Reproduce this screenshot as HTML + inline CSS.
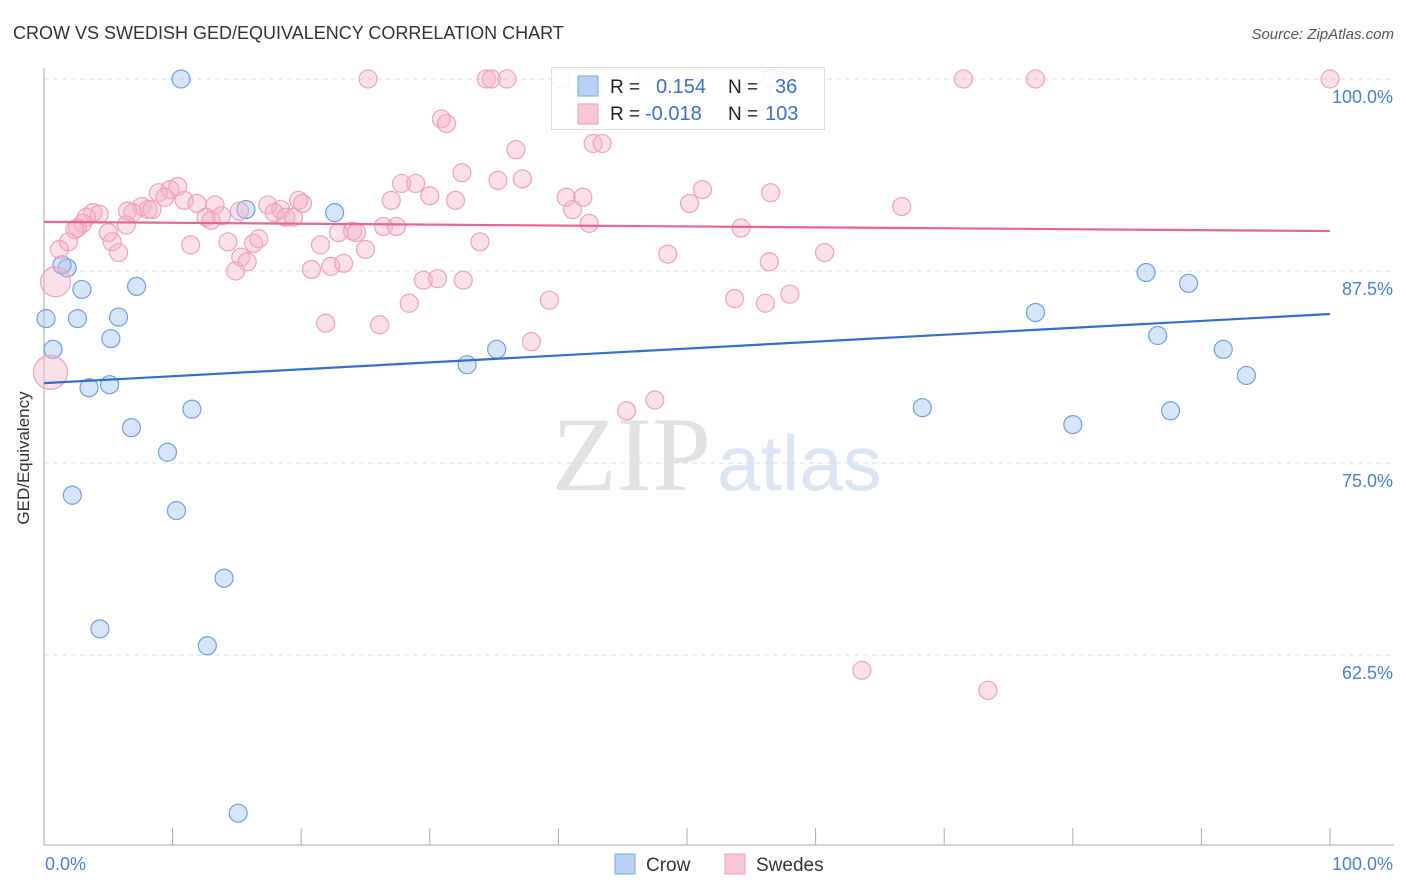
<!DOCTYPE html>
<html><head><meta charset="utf-8"><style>
body{margin:0;background:#fff;font-family:"Liberation Sans",sans-serif}
svg{display:block}
</style></head><body>
<svg id="chart" width="1406" height="892">
<text x="13" y="39" font-size="18" fill="#333">CROW VS SWEDISH GED/EQUIVALENCY CORRELATION CHART</text>
<text x="1394" y="39" font-size="15" fill="#555" font-style="italic" text-anchor="end">Source: ZipAtlas.com</text>
<g>
<text x="552" y="490" font-family="Liberation Serif,serif" font-size="106" fill="#e2e2e2">ZIP</text>
<text x="717" y="490" font-size="78" fill="#dbe6f5">atlas</text>
</g>
<g id="grid"></g>
<g id="axes"></g>
<g id="pts"></g>
<g id="trend"></g>
<text x="29" y="458" font-size="17" fill="#333" transform="rotate(-90 29 458)" text-anchor="middle">GED/Equivalency</text>
<text x="45" y="870" font-size="18" fill="#4a7fd4">0.0%</text>
<text x="1393" y="870" font-size="18" fill="#4a7fd4" text-anchor="end">100.0%</text>
<g>
<rect x="551.5" y="67.5" width="273" height="62" fill="rgba(255,255,255,0.9)" stroke="#ddd"/>
<rect x="578" y="76" width="20" height="20" fill="#b9d1f3" stroke="#7aa6e3"/>
<rect x="578" y="104" width="20" height="20" fill="#f9c6d6" stroke="#eba0ba"/>
<text x="610" y="93" font-size="19" fill="#222">R = </text><text x="656" y="93" font-size="20" fill="#3a6fd0">0.154</text>
<text x="728" y="93" font-size="19" fill="#222">N = </text><text x="775" y="93" font-size="20" fill="#3a6fd0">36</text>
<text x="610" y="120" font-size="19" fill="#222">R = </text><text x="645" y="120" font-size="20" fill="#3a6fd0">-0.018</text>
<text x="728" y="120" font-size="19" fill="#222">N = </text><text x="765" y="120" font-size="20" fill="#3a6fd0">103</text>
</g>
<g>
<rect x="615" y="854" width="20" height="20" fill="#b9d1f3" stroke="#7aa6e3"/>
<text x="646" y="871" font-size="19" fill="#333">Crow</text>
<rect x="725" y="854" width="20" height="20" fill="#f9c6d6" stroke="#eba0ba"/>
<text x="756" y="871" font-size="19" fill="#333">Swedes</text>
</g>
</svg>
<script>
const yTicks=[100,87.5,75,62.5];
const yTickLabels=["100.0%","87.5%","75.0%","62.5%"];
const crowX=[10.65,40.2,56.5,0.16,0.7,1.8,1.4,2.95,2.6,5.8,7.2,5.2,3.5,5.1,6.8,9.6,11.5,2.2,10.3,14.0,4.35,12.7,15.1,15.7,22.6,32.9,35.2,68.3,77.1,80.0,85.7,86.6,87.6,89.0,91.7,93.5];
const crowY=[100,100,100,84.4,82.4,87.7,87.9,86.3,84.4,84.5,86.5,83.1,79.9,80.1,77.3,75.7,78.5,72.9,71.9,67.5,64.2,63.1,52.2,91.5,91.3,81.4,82.4,78.6,84.8,77.5,87.4,83.3,78.4,86.7,82.4,80.7];
const swX=[25.2,34.4,34.8,36.0,46.9,71.5,77.1,100,30.9,31.3,36.7,42.7,43.4,32.5,35.3,37.2,27.8,28.9,30.0,32.0,27.0,40.6,41.9,41.1,51.2,50.2,56.5,66.7,42.4,54.2,8.9,9.8,10.4,9.4,10.9,11.9,13.3,15.2,17.4,18.4,19.8,20.1,17.9,18.8,19.4,12.6,13.0,13.8,7.6,8.1,8.4,6.9,6.5,3.8,4.3,3.3,3.0,2.6,2.4,6.4,5.0,1.9,1.2,5.3,5.8,11.4,14.3,16.3,16.7,15.3,15.8,14.9,21.5,22.9,24.0,24.3,25.0,26.4,27.4,33.9,20.8,22.3,23.3,29.5,30.6,32.6,28.4,39.3,21.9,26.1,37.9,48.5,56.4,60.7,53.7,56.1,58.0,45.3,47.5,63.6,73.4,0.9,0.5];
const swY=[100,100,100,100,100,100,100,100,97.4,97.1,95.4,95.8,95.8,93.9,93.4,93.5,93.2,93.2,92.4,92.1,92.1,92.3,92.3,91.5,92.8,91.9,92.6,91.7,90.6,90.3,92.6,92.8,93.0,92.3,92.1,91.9,91.8,91.4,91.8,91.5,92.1,91.9,91.3,91.0,91.0,91.0,90.8,91.1,91.7,91.5,91.5,91.3,91.4,91.3,91.2,91.0,90.6,90.3,90.2,90.5,90.0,89.4,88.9,89.4,88.7,89.2,89.4,89.3,89.6,88.4,88.1,87.5,89.2,90.0,90.1,90.0,88.9,90.4,90.4,89.4,87.6,87.8,88.0,86.9,87.0,86.9,85.4,85.6,84.1,84.0,82.9,88.6,88.1,88.7,85.7,85.4,86.0,78.4,79.1,61.5,60.2,86.8,80.9];
const swR=[];
const crowTrend=[80.2,84.7];
const swTrend=[90.7,90.1];
const NS="http://www.w3.org/2000/svg";
const X0=44,X1=1330,Ytop=79,PX=192/12.5;
const sx=v=>X0+(X1-X0)*v/100;
const sy=v=>Ytop+(100-v)*PX;
function mk(t,a,p){const e=document.createElementNS(NS,t);for(const k in a)e.setAttribute(k,a[k]);p.appendChild(e);return e;}
const grid=document.getElementById('grid'),axes=document.getElementById('axes'),pts=document.getElementById('pts'),tr=document.getElementById('trend');
yTicks.forEach((v,i)=>{
 const l=mk('line',{x1:X0,x2:1394,y1:sy(v),y2:sy(v),stroke:'#ddd','stroke-dasharray':'5,4'},grid);
 
 
 const t=mk('text',{x:1393,y:sy(v)+24,'font-size':18,fill:'#4a7fd4','text-anchor':'end'},grid);
 t.textContent=yTickLabels[i];
 
 
});
mk('line',{x1:X0,x2:X0,y1:68,y2:845,stroke:'#aaa'},axes);
mk('line',{x1:X0,x2:1394,y1:845,y2:845,stroke:'#aaa'},axes);
for(let i=0;i<=10;i++){const tk=mk('line',{x1:sx(i*10),x2:sx(i*10),y1:828,y2:845,stroke:'#aaa'},axes);
 
 }
crowX.forEach((x,i)=>{const c=mk('circle',{cx:sx(x),cy:sy(crowY[i]),r:9,fill:'rgba(165,198,240,0.45)',stroke:'#6f9fe0','stroke-width':1.2},pts);
 
 });
swX.forEach((x,i)=>{let r=9;if(i==swX.length-2)r=15;if(i==swX.length-1)r=17;
 const c=mk('circle',{cx:sx(x),cy:sy(swY[i]),r:r,fill:'rgba(246,175,200,0.4)',stroke:'#eda2bd','stroke-width':1.2},pts);
 
 });
const l1=mk('line',{x1:sx(0),x2:sx(100),y1:sy(crowTrend[0]),y2:sy(crowTrend[1]),stroke:'#2f6fd0','stroke-width':2.2},tr);


const l2=mk('line',{x1:sx(0),x2:sx(100),y1:sy(swTrend[0]),y2:sy(swTrend[1]),stroke:'#e9648f','stroke-width':2.2},tr);


</script>
</body></html>
